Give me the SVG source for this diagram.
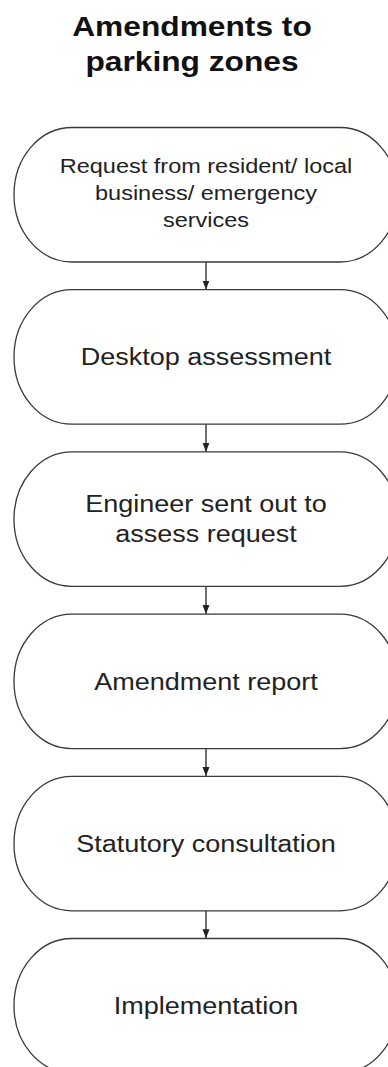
<svg xmlns="http://www.w3.org/2000/svg" width="388" height="1067" viewBox="0 0 388 1067">
<style>
.pill{fill:#fff;stroke:#3a3a3a;stroke-width:1.3}
.lbl{font-family:"Liberation Sans",Arial,sans-serif;font-size:23px;fill:#222;text-anchor:middle}
.sm{font-size:20px}
.ttl{font-family:"Liberation Sans",Arial,sans-serif;font-size:27px;font-weight:bold;fill:#111;text-anchor:middle}
.conn{stroke:#222;stroke-width:1.3;fill:none}
</style>
<defs>
<marker id="ah" markerWidth="10" markerHeight="8" refX="9" refY="4" orient="auto" markerUnits="userSpaceOnUse">
<path d="M0,0.5 L9,4 L0,7.5 Z" fill="#222"/>
</marker>
</defs>
<rect width="388" height="1067" fill="#fff"/>
<g id="title" transform="translate(192,0) scale(1.175,1)">
<text class="ttl" x="0" y="36">Amendments to</text>
<text class="ttl" x="0" y="71">parking zones</text>
</g>
<g id="connectors">
<line class="conn" x1="206" y1="262" x2="206" y2="289.5" marker-end="url(#ah)"/>
<line class="conn" x1="206" y1="424.2" x2="206" y2="451.7" marker-end="url(#ah)"/>
<line class="conn" x1="206" y1="586.4" x2="206" y2="613.9" marker-end="url(#ah)"/>
<line class="conn" x1="206" y1="748.6" x2="206" y2="776.1" marker-end="url(#ah)"/>
<line class="conn" x1="206" y1="910.8" x2="206" y2="938.3" marker-end="url(#ah)"/>
</g>
<g id="n1">
<rect class="pill" x="14" y="127.5" width="384" height="134.5" rx="58" ry="67"/>
<g transform="translate(206,0) scale(1.175,1)">
<text class="lbl sm" x="0" y="173">Request from resident/ local</text>
<text class="lbl sm" x="0" y="200">business/ emergency</text>
<text class="lbl sm" x="0" y="227">services</text>
</g>
</g>
<g id="n2">
<rect class="pill" x="14" y="289.7" width="384" height="134.5" rx="58" ry="67"/>
<g transform="translate(206,0) scale(1.175,1)">
<text class="lbl" x="0" y="365">Desktop assessment</text>
</g>
</g>
<g id="n3">
<rect class="pill" x="14" y="451.9" width="384" height="134.5" rx="58" ry="67"/>
<g transform="translate(206,0) scale(1.175,1)">
<text class="lbl" x="0" y="512">Engineer sent out to</text>
<text class="lbl" x="0" y="542">assess request</text>
</g>
</g>
<g id="n4">
<rect class="pill" x="14" y="614.1" width="384" height="134.5" rx="58" ry="67"/>
<g transform="translate(206,0) scale(1.175,1)">
<text class="lbl" x="0" y="690">Amendment report</text>
</g>
</g>
<g id="n5">
<rect class="pill" x="14" y="776.3" width="384" height="134.5" rx="58" ry="67"/>
<g transform="translate(206,0) scale(1.175,1)">
<text class="lbl" x="0" y="852">Statutory consultation</text>
</g>
</g>
<g id="n6">
<rect class="pill" x="14" y="938.5" width="384" height="134.5" rx="58" ry="67"/>
<g transform="translate(206,0) scale(1.175,1)">
<text class="lbl" x="0" y="1014">Implementation</text>
</g>
</g>
</svg>
